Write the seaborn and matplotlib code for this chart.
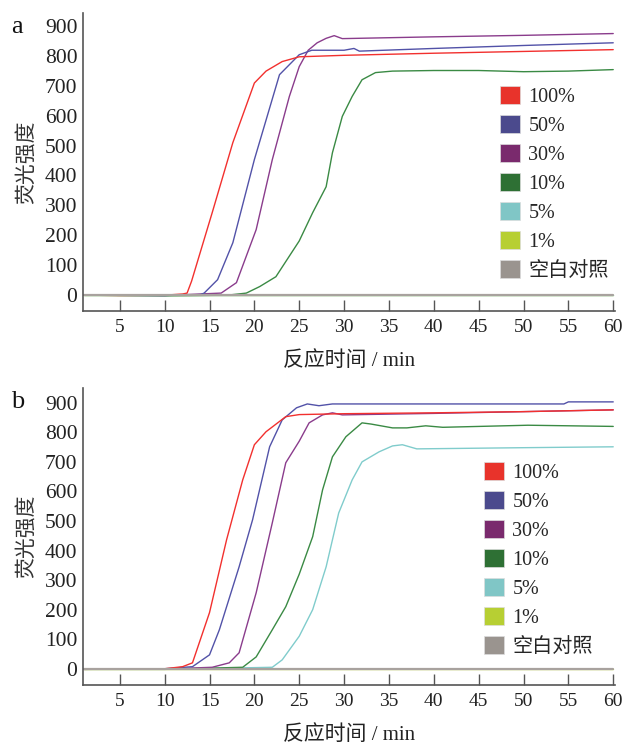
import pandas as pd
import matplotlib.pyplot as plt
import seaborn as sns
from matplotlib.patches import Patch

# series labels
labels = ['100%', '50%', '30%', '10%', '5%', '1%', '空白对照']

# panel a
a_100_t = [1, 5, 10, 12, 12.5, 13, 15.3, 17.6, 20, 21.3, 23.1, 25, 30, 40, 50, 60]
a_100_v = [-2, -3, -2, 2, 5, 45, 275, 510, 710, 750, 782, 798, 803, 810, 816, 822]
a_50_t = [1, 10, 14, 14.4, 15.9, 17.6, 20, 22.8, 25, 26.4, 30, 31.1, 31.7, 40, 50, 60]
a_50_v = [-2, -3, 0, 5, 50, 174, 453, 738, 805, 820, 820, 826, 817, 826, 836, 845]
a_30_t = [1, 10, 16.3, 18, 20.2, 22, 23.9, 25, 26, 27, 28, 28.9, 29.8, 40, 50, 60]
a_30_v = [-2, -3, 5, 40, 218, 453, 665, 765, 820, 845, 860, 869, 859, 865, 870, 876]
a_10_t = [1, 10, 17, 19.1, 20.6, 22.4, 25, 26.5, 28, 28.7, 29.8, 30.9, 32, 33.5, 35.4, 40, 45, 50, 55, 60]
a_10_v = [-2, -4, -2, 5, 27, 60, 180, 275, 362, 476, 598, 665, 721, 745, 750, 752, 752, 748, 750, 755]
a_5_t = [1, 60]
a_5_v = [-1, -1]
a_1_t = [1, 60]
a_1_v = [-1, -1]
a_blank_t = [1, 60]
a_blank_v = [0, 0]

# panel b
b_100_t = [1, 10, 12, 13.1, 15, 16.9, 18.7, 20, 21.3, 23.5, 25, 30, 40, 50, 60]
b_100_v = [-2, 0, 7, 20, 190, 436, 639, 758, 802, 853, 860, 863, 866, 870, 876]
b_50_t = [1, 10, 13.1, 15, 16.1, 18.3, 19.8, 21.7, 23.1, 24.7, 25.9, 27.2, 28.7, 40, 54.5, 55, 60]
b_50_v = [-2, 0, 7, 47, 132, 345, 504, 751, 842, 883, 896, 890, 896, 896, 896, 903, 903]
b_30_t = [1, 10, 15.3, 17.2, 18.3, 20.2, 22, 23.5, 25, 26.1, 27.6, 28.7, 29.8, 40, 50, 60]
b_30_v = [-2, -1, 5, 20, 54, 257, 494, 697, 770, 832, 859, 866, 859, 864, 870, 876]
b_10_t = [1, 10, 18.7, 20.2, 22, 23.5, 25, 26.5, 27.6, 28.7, 30.2, 32, 33, 35.4, 37, 39.1, 41, 50.5, 60]
b_10_v = [-2, -2, 5, 40, 132, 210, 320, 447, 605, 717, 785, 832, 828, 815, 815, 822, 817, 824, 820]
b_5_t = [1, 10, 22, 23.1, 25, 26.5, 28, 29.4, 30.9, 32, 33.9, 35.4, 36.5, 38.1, 50, 60]
b_5_v = [-2, -2, 5, 30, 110, 200, 345, 527, 639, 700, 734, 754, 758, 744, 748, 751]
b_1_t = [1, 60]
b_1_v = [-1, -1]
b_blank_t = [1, 60]
b_blank_v = [0, 0]

line_colors = ['#f2302e', '#5252a8', '#8a3c8c', '#3a8a44', '#80cccc', '#b5cf30', '#a8a29e']
patch_colors = ['#e8332b', '#4b4a8d', '#7a2a6d', '#2e7034', '#80c6c6', '#b7cf33', '#9a948f']
x_ticks = [5, 10, 15, 20, 25, 30, 35, 40, 45, 50, 55, 60]
y_ticks = [0, 100, 200, 300, 400, 500, 600, 700, 800, 900]

sns.set_style('white')
plt.rcParams['font.family'] = ['Liberation Serif', 'Noto Sans CJK SC']
plt.rcParams['font.size'] = 14


def build(series):
    parts = []
    for lab, (t, v) in zip(labels, series):
        parts.append(pd.DataFrame({'t': t, 'v': v, 'group': lab}))
    return pd.concat(parts, ignore_index=True)


def draw_panel(ax, df, letter, ylim, leg_xy):
    pal = dict(zip(labels, line_colors))
    # low concentrations first, blank control drawn last on the baseline
    for lab in ['1%', '5%', '10%', '30%', '50%', '100%', '空白对照']:
        sub = df[df['group'] == lab]
        sns.lineplot(data=sub, x='t', y='v', color=pal[lab],
                     lw=1.6 if lab == '空白对照' else 1.0,
                     estimator=None, sort=False, ax=ax)
    ax.set_xlim(0.9, 60.2)
    ax.set_ylim(*ylim)
    ax.set_xticks(x_ticks)
    ax.set_yticks(y_ticks)
    ax.tick_params(axis='x', direction='in', length=8, width=1, color='#555555',
                   bottom=True, pad=6, labelcolor='#222222', labelsize=14)
    ax.tick_params(axis='y', length=0, pad=4, labelcolor='#222222', labelsize=15.5)
    for s in ['top', 'right']:
        ax.spines[s].set_visible(False)
    for s in ['left', 'bottom']:
        ax.spines[s].set_color('#555555')
        ax.spines[s].set_linewidth(1.2)
    ax.set_xlabel('反应时间 / min', fontsize=15, color='#222222', labelpad=11)
    ax.set_ylabel('荧光强度', fontsize=15, color='#333333', labelpad=6)
    handles = [Patch(facecolor=c, edgecolor='#dddddd', lw=0.5) for c in patch_colors]
    ax.legend(handles, labels, loc='upper left', bbox_to_anchor=leg_xy,
              frameon=False, handlelength=1.0, handleheight=1.0,
              handletextpad=0.4, labelspacing=0.4, borderpad=0,
              borderaxespad=0, fontsize=14.5)
    ax.text(-0.135, 0.99, letter, transform=ax.transAxes, fontsize=19,
            va='top', ha='left', color='#111111')


fig = plt.figure(figsize=(6.27, 7.47), dpi=100)
ax_a = fig.add_axes([0.1324, 0.5837, 0.8485, 0.3989])
ax_b = fig.add_axes([0.1324, 0.0830, 0.8485, 0.3976])

df_a = build([(a_100_t, a_100_v), (a_50_t, a_50_v), (a_30_t, a_30_v), (a_10_t, a_10_v),
              (a_5_t, a_5_v), (a_1_t, a_1_v), (a_blank_t, a_blank_v)])
df_b = build([(b_100_t, b_100_v), (b_50_t, b_50_v), (b_30_t, b_30_v), (b_10_t, b_10_v),
              (b_5_t, b_5_v), (b_1_t, b_1_v), (b_blank_t, b_blank_v)])

draw_panel(ax_a, df_a, 'a', (-55, 945), (0.784, 0.755))
draw_panel(ax_b, df_b, 'b', (-55, 950), (0.754, 0.751))

fig.savefig('out.png', dpi=100)
